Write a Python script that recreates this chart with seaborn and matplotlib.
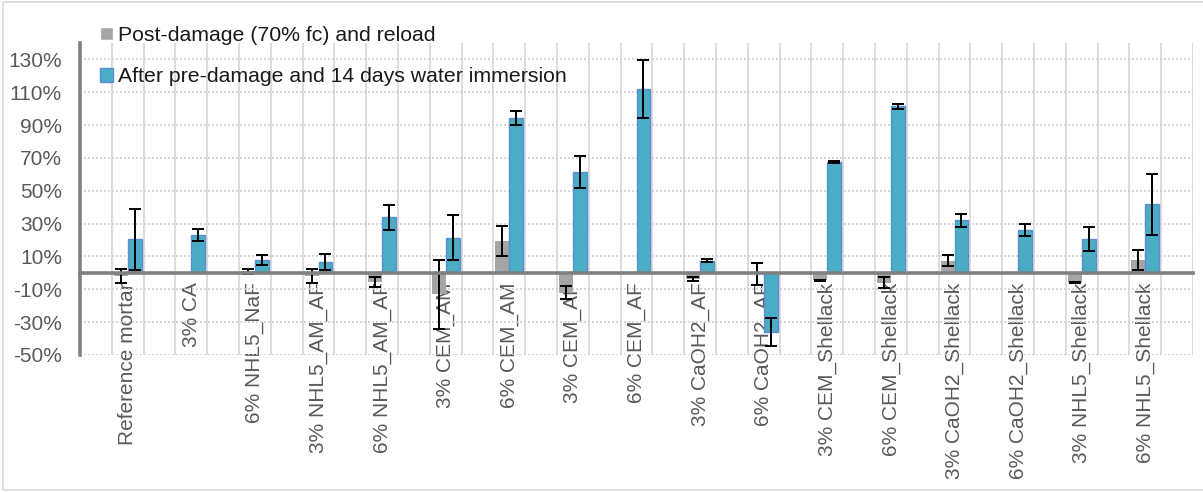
import numpy as np
import pandas as pd
import matplotlib
matplotlib.use("Agg")
import matplotlib.pyplot as plt
import seaborn as sns
from matplotlib.patches import Rectangle

# data (values in %)
categories = ["Reference mortar", "3% CA", "6% NHL5_NaF", "3% NHL5_AM_AF", "6% NHL5_AM_AF",
              "3% CEM_AM", "6% CEM_AM", "3% CEM_AF", "6% CEM_AF", "3% CaOH2_AF", "6% CaOH2_AF",
              "3% CEM_Shellack", "6% CEM_Shellack", "3% CaOH2_Shellack", "6% CaOH2_Shellack",
              "3% NHL5_Shellack", "6% NHL5_Shellack"]
post_damage = [-2.0, 0.0, 1.0, -2.0, -5.5, -13.0, 19.5, -12.0, 0.0, -4.0, -0.5,
               -4.5, -6.0, 7.5, 0.0, -6.0, 8.0]
post_damage_err = [4.3, np.nan, 1.5, 4.3, 3.0, 21.0, 9.0, 4.0, np.nan, 1.2, 6.6,
                   0.3, 3.4, 3.3, np.nan, 0.4, 6.1]
after_immersion = [20.5, 23.0, 7.8, 6.8, 33.8, 21.5, 94.3, 61.5, 112.0, 7.5, -36.0,
                   67.6, 101.4, 32.1, 26.0, 20.5, 41.8]
after_immersion_err = [18.5, 3.5, 2.8, 5.0, 7.6, 13.5, 4.0, 9.8, 17.8, 1.0, 8.8,
                       0.4, 1.6, 4.0, 3.8, 7.3, 18.7]
series_names = ["Post-damage (70% fc) and reload", "After pre-damage and 14 days water immersion"]
y_ticks = list(range(-50, 131, 20))

df = pd.DataFrame({
    "Mix": categories * 2,
    "Series": [series_names[0]] * len(categories) + [series_names[1]] * len(categories),
    "Value": post_damage + after_immersion,
})
errors = [post_damage_err, after_immersion_err]

sns.set_style("white")
plt.rcParams["font.family"] = ["Liberation Sans", "DejaVu Sans"]

fig = plt.figure(figsize=(12.03, 4.92), dpi=100)
ax = fig.add_axes([80 / 1203, 1 - 355 / 492, 1113 / 1203, 312 / 492])

sns.barplot(data=df, x="Mix", y="Value", hue="Series", order=categories,
            hue_order=series_names, palette=["#A5A5A5", "#4BACC6"],
            width=0.44, gap=0, errorbar=None, saturation=1, ax=ax, zorder=3)

# blue bars get a thin darker outline like in Excel
for patch in ax.containers[1]:
    patch.set_edgecolor("#5B8FD0")
    patch.set_linewidth(1.0)
for patch in ax.containers[0]:
    patch.set_linewidth(0)

# error bars at the bar ends
for cont, err in zip(ax.containers, errors):
    xs = [p.get_x() + p.get_width() / 2 for p in cont]
    ys = [p.get_y() + p.get_height() for p in cont]
    for x, y, e in zip(xs, ys, err):
        if np.isnan(e):
            continue
        ax.errorbar(x, y, yerr=e, fmt="none", ecolor="black", elinewidth=1.4,
                    capsize=4.5, capthick=1.4, zorder=4)

ax.set_xlim(-0.75, len(categories) - 0.25)
ax.set_ylim(-50, 140)
ax.set_yticks(y_ticks)
ax.set_yticklabels([f"{v}%" for v in y_ticks])
ax.set_xlabel("")
ax.set_ylabel("")

# gridlines
ax.set_axisbelow(True)
ax.set_xticks(np.arange(-0.25, len(categories), 0.5), minor=True)
ax.grid(which="minor", axis="x", color="#D9D9D9", linewidth=1.3, linestyle="-")
ax.grid(which="major", axis="y", color="#D0D0D0", linewidth=1.2, linestyle=(0, (1.2, 1.2)))
ax.grid(which="major", axis="x", visible=False)

# axes lines
for side in ["top", "right"]:
    ax.spines[side].set_visible(False)
ax.spines["left"].set_color("#808080")
ax.spines["left"].set_linewidth(2.6)
ax.spines["bottom"].set_position(("data", 0))
ax.spines["bottom"].set_color("#808080")
ax.spines["bottom"].set_linewidth(2.6)
ax.spines["bottom"].set_zorder(5)

ax.tick_params(axis="y", length=0, pad=13, labelsize=15, labelcolor="#595959")
ax.tick_params(axis="x", which="both", length=0, pad=7, labelsize=15, labelcolor="#595959")
for lbl in ax.get_xticklabels():
    lbl.set_rotation(90)
    lbl.set_va("top")
    lbl.set_ha("center")

sns.move_legend(ax, "upper left", bbox_to_anchor=(100 / 1203, 1 - 26 / 492),
                bbox_transform=fig.transFigure, frameon=False, title=None,
                fontsize=15.3, labelspacing=1.05, handlelength=0.62, handleheight=0.62,
                handletextpad=0.25, borderpad=0, borderaxespad=0)
leg = ax.get_legend()
leg.legend_handles[1].set_edgecolor("#5B8FD0")
leg.legend_handles[1].set_linewidth(1.0)
for t in leg.get_texts():
    t.set_color("#1a1a1a")

# light frame around the whole chart
fig.patches.append(Rectangle((3 / 1203, 2 / 492), 1.0, 488 / 492, transform=fig.transFigure,
                             fill=False, edgecolor="#D9D9D9", linewidth=1.2))

fig.savefig("out.png", dpi=100)
